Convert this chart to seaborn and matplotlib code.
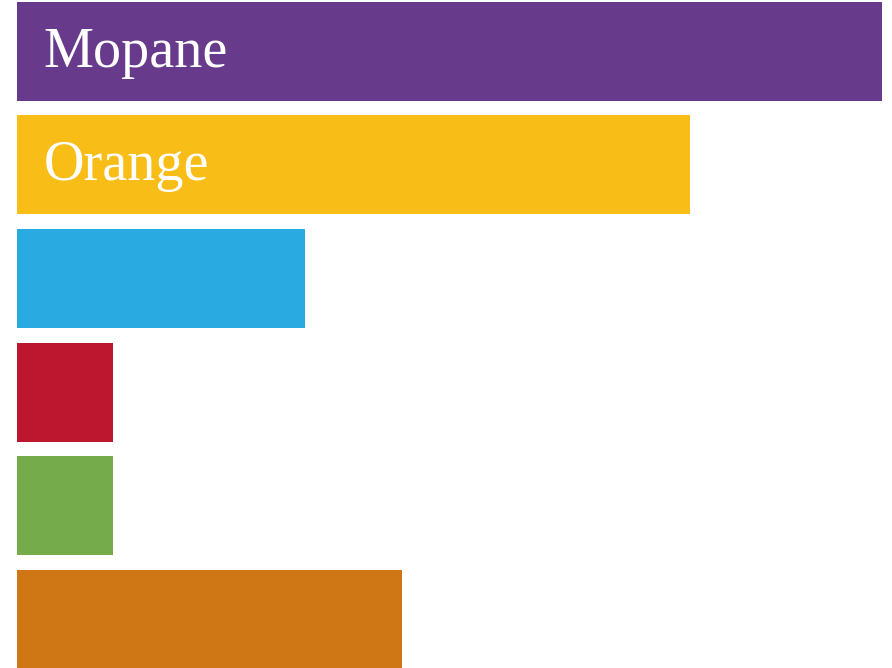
import pandas as pd
import matplotlib
matplotlib.use("Agg")
import matplotlib.pyplot as plt
import seaborn as sns

# Data
categories = ["Mopane", "Orange", "Bar 3", "Bar 4", "Bar 5", "Bar 6"]
values = [9, 7, 3, 1, 1, 4]
shown_labels = ["Mopane", "Orange", "", "", "", ""]
colors = ["#673a8b", "#f9bd17", "#29aae1", "#bd1730", "#75ab4a", "#cf7714"]

df = pd.DataFrame({"category": categories, "value": values})

sns.set_theme(style="white")
plt.rcParams["font.family"] = ["Liberation Serif", "DejaVu Serif"]

fig = plt.figure(figsize=(8.92, 6.68), dpi=100)
ax = fig.add_axes([0, 0, 1, 1])

sns.barplot(data=df, x="value", y="category", hue="category",
            palette=colors, orient="h", width=0.871,
            legend=False, saturation=1, linewidth=0, ax=ax)

# labels inside the bars
for i, lab in enumerate(shown_labels):
    if lab:
        ax.annotate(lab, xy=(0, i), xytext=(27, -15.5),
                    textcoords="offset pixels", ha="left", va="baseline",
                    color="white", fontsize=40.5)

ax.set_xlim(-0.174, 9.099)
ax.set_ylim(5.425, -0.45)
ax.axis("off")

fig.savefig("out.png", dpi=100, facecolor="white")
